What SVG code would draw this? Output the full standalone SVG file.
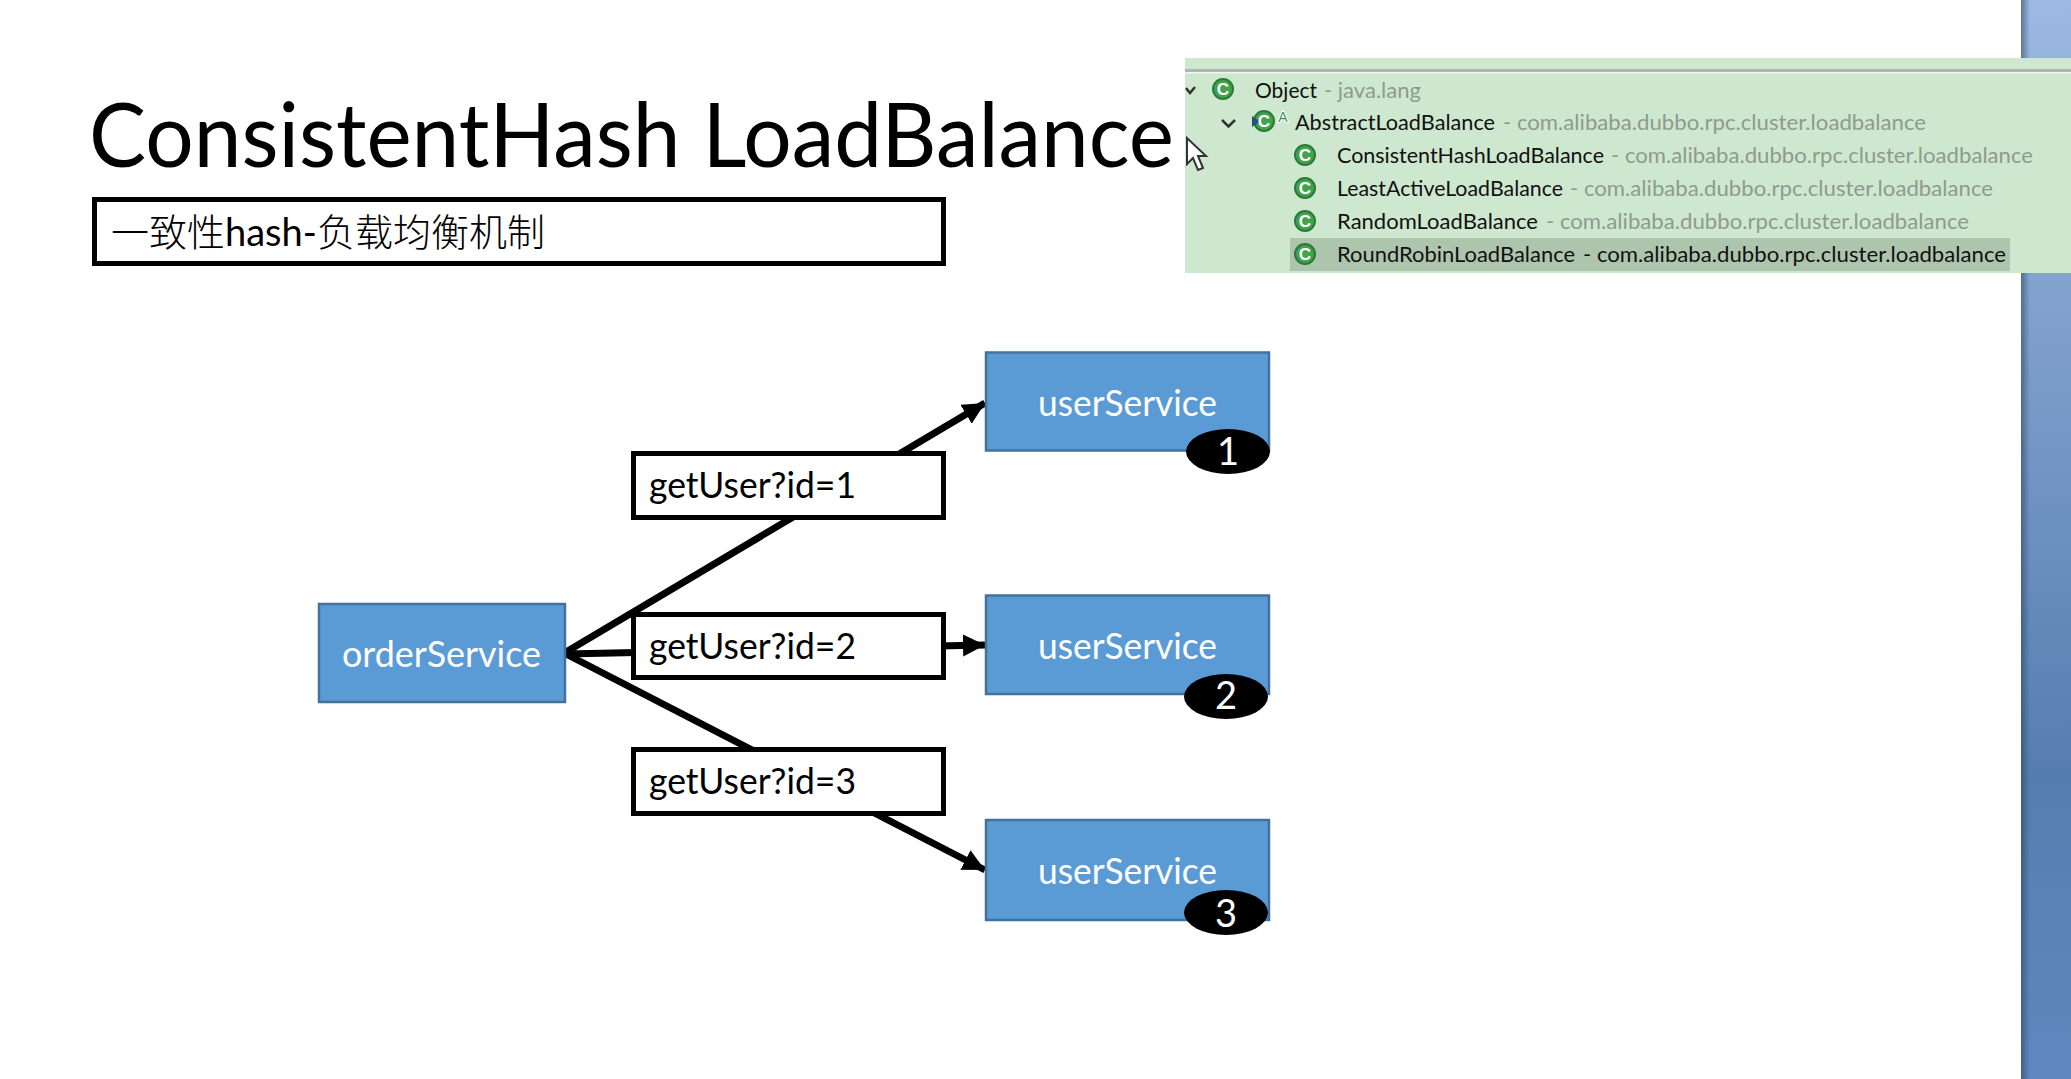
<svg xmlns="http://www.w3.org/2000/svg" width="2071" height="1079" viewBox="0 0 2071 1079">
<style>
.box{fill:#5b9bd5;stroke:#41719c;stroke-width:2.500}
.lbl{fill:#fff;stroke:#000;stroke-width:5}
.wt{fill:#fff;font-family:Lato,"Liberation Sans",sans-serif;font-size:37px}
.dg{fill:#fff;font-family:Lato,"Liberation Sans",sans-serif;font-size:38px;text-anchor:middle}
.bk{fill:#000;font-family:Lato,"Liberation Sans",sans-serif;font-size:37px}
.con{stroke:#000;stroke-width:7;fill:none;marker-end:url(#ah)}
.n{fill:#111;font-family:Lato,"Liberation Sans",sans-serif;font-size:21px}
.p{fill:#8f9a8f;font-family:Lato,"Liberation Sans",sans-serif;font-size:21px}
.ic{fill:#43a24e;stroke:#2c7a38;stroke-width:2}
.c{fill:#fff;font-family:"Liberation Sans",sans-serif;font-size:17px;font-weight:bold;text-anchor:middle}
</style>
<defs>
<marker id="ah" markerUnits="userSpaceOnUse" markerWidth="24" markerHeight="24" refX="22" refY="11" orient="auto"><path d="M0 0L22 11L0 22Z" fill="#000"/></marker>
<linearGradient id="sg" x1="0" y1="0" x2="0" y2="1"><stop offset="0" stop-color="#9cb9e2"/><stop offset=".3" stop-color="#7fa0cc"/><stop offset=".72" stop-color="#567daf"/><stop offset="1" stop-color="#5f88c0"/></linearGradient>
<linearGradient id="se" x1="0" y1="0" x2="1" y2="0"><stop offset="0" stop-color="#2a3f5f" stop-opacity=".55"/><stop offset="1" stop-color="#2a3f5f" stop-opacity="0"/></linearGradient>
</defs>
<rect width="2071" height="1079" fill="#fff"/>
<g id="side-strip"><rect x="2021" y="0" width="50" height="1079" fill="url(#sg)"/><rect x="2021" y="0" width="9" height="1079" fill="url(#se)"/></g>
<g id="title"><text x="89" y="167" font-family="Lato,'Liberation Sans',sans-serif" font-size="89" textLength="1085" lengthAdjust="spacingAndGlyphs">ConsistentHash LoadBalance</text></g>
<g id="subtitle"><rect x="94.500" y="199.500" width="849" height="64" class="lbl"/><text x="111" y="246" font-family="Lato,'Noto Sans CJK SC',sans-serif" font-size="38" font-weight="300">一致性<tspan font-weight="400">hash-</tspan>负载均衡机制</text></g>
<g id="connectors">
<line x1="566" y1="652" x2="985" y2="403" class="con"/>
<line x1="566" y1="654" x2="985" y2="645" class="con"/>
<line x1="566" y1="654" x2="985" y2="870" class="con"/>
</g>
<g id="orderService"><rect x="319" y="604" width="246" height="98" class="box"/><text x="342" y="667" class="wt" textLength="199" lengthAdjust="spacingAndGlyphs">orderService</text></g>
<g id="userService1"><rect x="986" y="352.500" width="283" height="98" class="box"/><text x="1038" y="416" class="wt" textLength="179" lengthAdjust="spacingAndGlyphs">userService</text><ellipse cx="1228" cy="451.500" rx="42" ry="22.500"/><text x="1228" y="465" class="dg">1</text></g>
<g id="userService2"><rect x="986" y="595.500" width="283" height="98.500" class="box"/><text x="1038" y="659" class="wt" textLength="179" lengthAdjust="spacingAndGlyphs">userService</text><ellipse cx="1226" cy="696.500" rx="42" ry="22.500"/><text x="1226" y="709" class="dg">2</text></g>
<g id="userService3"><rect x="986" y="820" width="283" height="100" class="box"/><text x="1038" y="884" class="wt" textLength="179" lengthAdjust="spacingAndGlyphs">userService</text><ellipse cx="1226" cy="912.500" rx="42" ry="22.500"/><text x="1226" y="927" class="dg">3</text></g>
<g id="label1"><rect x="633.500" y="453.500" width="310" height="64" class="lbl"/><text x="649" y="498" class="bk" textLength="207" lengthAdjust="spacingAndGlyphs">getUser?id=1</text></g>
<g id="label2"><rect x="633.500" y="614.500" width="310" height="63" class="lbl"/><text x="649" y="659" class="bk" textLength="207" lengthAdjust="spacingAndGlyphs">getUser?id=2</text></g>
<g id="label3"><rect x="633.500" y="749.500" width="310" height="64" class="lbl"/><text x="649" y="794" class="bk" textLength="207" lengthAdjust="spacingAndGlyphs">getUser?id=3</text></g>
<g id="hierarchy-panel">
<rect x="1185" y="58" width="886" height="215" fill="#cde8ce"/>
<rect x="1185" y="69" width="886" height="3" fill="#b0b4b0"/><rect x="1185" y="72" width="886" height="1.500" fill="#eef6ee"/>
<rect x="1290" y="238" width="720" height="33" fill="#adc4ad"/>
<path d="M1186 88l4 5l5-6" fill="none" stroke="#333" stroke-width="2.500"/>
<path d="M1222 120l6.500 6.500l6.500-6.500" fill="none" stroke="#333" stroke-width="2.500"/>
<circle cx="1223" cy="89" r="10" class="ic"/><text x="1223" y="95" class="c">C</text>
<circle cx="1264" cy="121" r="10" class="ic"/><path d="M1252 116l8 5.500l-8 5.500Z" fill="#27507f"/><text x="1264" y="127" class="c">C</text><text x="1283" y="122" font-family="'Liberation Sans',sans-serif" font-size="14" fill="#3f8f6a" stroke="#fff" stroke-width="2" paint-order="stroke" text-anchor="middle">A</text>
<circle cx="1305" cy="155" r="10" class="ic"/><text x="1305" y="161" class="c">C</text>
<circle cx="1305" cy="188" r="10" class="ic"/><text x="1305" y="194" class="c">C</text>
<circle cx="1305" cy="221" r="10" class="ic"/><text x="1305" y="227" class="c">C</text>
<circle cx="1305" cy="254" r="10" class="ic"/><text x="1305" y="260" class="c">C</text>
<text x="1255" y="98" class="n" textLength="62" lengthAdjust="spacingAndGlyphs">Object</text><text x="1324" y="98" class="p" textLength="97" lengthAdjust="spacingAndGlyphs">- java.lang</text>
<text x="1295" y="130" class="n" textLength="200" lengthAdjust="spacingAndGlyphs">AbstractLoadBalance</text><text x="1503" y="130" class="p" textLength="423" lengthAdjust="spacingAndGlyphs">- com.alibaba.dubbo.rpc.cluster.loadbalance</text>
<text x="1337" y="163" class="n" textLength="267" lengthAdjust="spacingAndGlyphs">ConsistentHashLoadBalance</text><text x="1611" y="163" class="p" textLength="422" lengthAdjust="spacingAndGlyphs">- com.alibaba.dubbo.rpc.cluster.loadbalance</text>
<text x="1337" y="196" class="n" textLength="226" lengthAdjust="spacingAndGlyphs">LeastActiveLoadBalance</text><text x="1570" y="196" class="p" textLength="423" lengthAdjust="spacingAndGlyphs">- com.alibaba.dubbo.rpc.cluster.loadbalance</text>
<text x="1337" y="229" class="n" textLength="201" lengthAdjust="spacingAndGlyphs">RandomLoadBalance</text><text x="1546" y="229" class="p" textLength="423" lengthAdjust="spacingAndGlyphs">- com.alibaba.dubbo.rpc.cluster.loadbalance</text>
<text x="1337" y="262" class="n" textLength="238" lengthAdjust="spacingAndGlyphs">RoundRobinLoadBalance</text><text x="1583" y="262" class="n" textLength="423" lengthAdjust="spacingAndGlyphs">- com.alibaba.dubbo.rpc.cluster.loadbalance</text>
<path d="M1187 138V164L1193 158L1198 170L1203 168L1198 156L1206 156Z" fill="#fff" stroke="#333" stroke-width="2"/>
</g>
</svg>
